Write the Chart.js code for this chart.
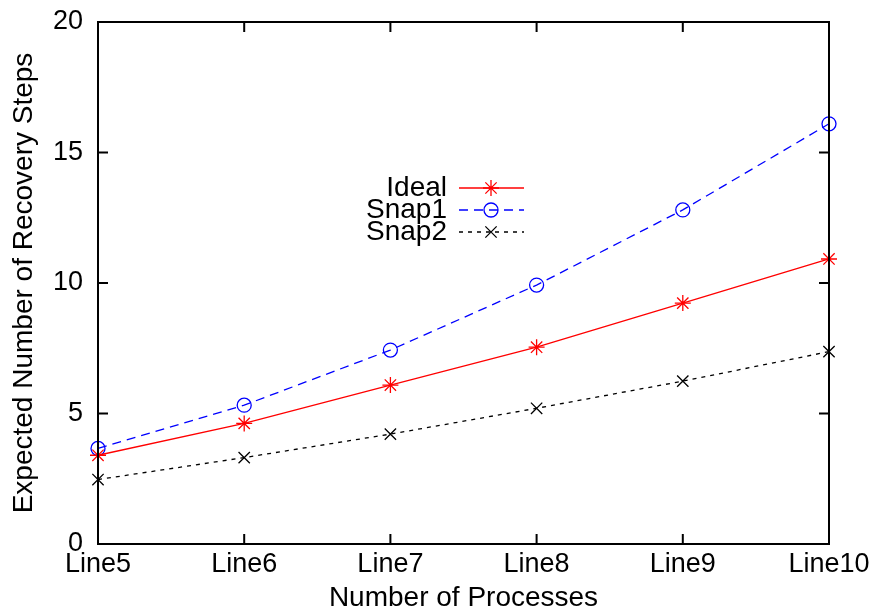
<!DOCTYPE html>
<html>
<head>
<meta charset="utf-8">
<script src="https://cdn.jsdelivr.net/npm/chart.js@4/dist/chart.umd.min.js"></script>
<style>
  html, body { margin: 0; padding: 0; background: #fff; }
  #wrap { width: 872px; height: 609px; }
</style>
</head>
<body>
<div id="wrap"><canvas id="recovery-chart" width="872" height="609"></canvas></div>
<script>
const labels = ["Line5", "Line6", "Line7", "Line8", "Line9", "Line10"];
const ideal = [3.40, 4.62, 6.09, 7.54, 9.23, 10.92];
const snap1 = [3.66, 5.32, 7.43, 9.92, 12.80, 16.10];
const snap2 = [2.47, 3.31, 4.21, 5.20, 6.24, 7.37];
const yTicks = [0, 5, 10, 15, 20];

const font = "'Liberation Sans', Arial, sans-serif";
const tickSize = 27;
const titleSize = 28;

// gnuplot-ish frame with inward ticks on all four sides
const framePlugin = {
    id: 'frame',
    afterDatasetsDraw(chart) {
        const ctx = chart.ctx;
        const a = chart.chartArea;
        const x = chart.scales.x, y = chart.scales.y;
        ctx.save();
        ctx.strokeStyle = '#000';
        ctx.lineWidth = 2;
        ctx.strokeRect(a.left, a.top, a.right - a.left, a.bottom - a.top);
        ctx.beginPath();
        const t = 10;
        labels.forEach((l, i) => {
            const px = x.getPixelForValue(i);
            ctx.moveTo(px, a.bottom); ctx.lineTo(px, a.bottom - t);
            ctx.moveTo(px, a.top); ctx.lineTo(px, a.top + t);
        });
        yTicks.forEach(v => {
            const py = y.getPixelForValue(v);
            ctx.moveTo(a.left, py); ctx.lineTo(a.left + t, py);
            ctx.moveTo(a.right, py); ctx.lineTo(a.right - t, py);
        });
        ctx.stroke();
        ctx.restore();
    }
};

// legend drawn inside the plot like gnuplot's key
const keyPlugin = {
    id: 'key',
    afterDatasetsDraw(chart) {
        const ctx = chart.ctx;
        ctx.save();
        ctx.font = titleSize + 'px ' + font;
        ctx.textAlign = 'right';
        ctx.textBaseline = 'middle';
        chart.data.datasets.forEach((ds, i) => {
            const yy = 188 + i * 22;
            ctx.fillStyle = '#000';
            ctx.fillText(ds.label, 447, yy);
            ctx.strokeStyle = ds.borderColor;
            ctx.lineWidth = ds.borderWidth;
            ctx.setLineDash(ds.borderDash || []);
            ctx.beginPath();
            ctx.moveTo(459, yy); ctx.lineTo(524, yy);
            ctx.stroke();
            ctx.setLineDash([]);
            ctx.fillStyle = 'rgba(0,0,0,0)';
            ctx.strokeStyle = ds.pointBorderColor;
            ctx.lineWidth = ds.pointBorderWidth;
            Chart.helpers.drawPoint(ctx, {
                pointStyle: ds.pointStyle, radius: ds.pointRadius, borderWidth: ds.pointBorderWidth
            }, 491, yy);
        });
        ctx.restore();
    }
};

const config = {
    type: 'line',
    data: {
        labels: labels,
        datasets: [{
            label: 'Ideal',
            data: ideal,
            borderColor: '#ff0000',
            backgroundColor: 'rgba(0,0,0,0)',
            borderWidth: 1.3,
            pointStyle: 'star',
            pointRadius: 8,
            pointBorderColor: '#ff0000',
            pointBorderWidth: 1.3
        }, {
            label: 'Snap1',
            data: snap1,
            borderColor: '#0000ff',
            backgroundColor: 'rgba(0,0,0,0)',
            borderWidth: 1.3,
            borderDash: [9, 6],
            pointStyle: 'circle',
            pointRadius: 7,
            pointBorderColor: '#0000ff',
            pointBorderWidth: 1.3
        }, {
            label: 'Snap2',
            data: snap2,
            borderColor: '#000000',
            backgroundColor: 'rgba(0,0,0,0)',
            borderWidth: 1.3,
            borderDash: [4, 5],
            pointStyle: 'crossRot',
            pointRadius: 8,
            pointBorderColor: '#000000',
            pointBorderWidth: 1.3
        }]
    },
    options: {
        responsive: false,
        animation: false,
        layout: { padding: { top: 22, right: 43, left: 0, bottom: 0 } },
        plugins: {
            legend: { display: false },
            tooltip: { enabled: false }
        },
        scales: {
            x: {
                type: 'category',
                offset: false,
                grid: { display: false, drawTicks: false },
                border: { display: false },
                ticks: { color: '#000', font: { family: font, size: tickSize }, padding: 4, maxRotation: 0, autoSkip: false },
                title: { display: true, text: 'Number of Processes', color: '#000', font: { family: font, size: titleSize, lineHeight: 1 }, padding: { top: 0, bottom: -3 } },
                afterFit(scale) {
                    scale.height = 65;
                    scale.paddingLeft = 0;
                    scale.paddingRight = 0;
                }
            },
            y: {
                min: 0,
                max: 20,
                afterBuildTicks(scale) { scale.ticks = yTicks.map(v => ({ value: v })); },
                grid: { display: false, drawTicks: false },
                border: { display: false },
                ticks: { color: '#000', font: { family: font, size: tickSize }, padding: 15 },
                title: { display: true, text: 'Expected Number of Recovery Steps', color: '#000', font: { family: font, size: titleSize, lineHeight: 1 }, padding: { top: 10, bottom: 0 } },
                afterFit(scale) {
                    scale.width = 98;
                    scale.paddingTop = 0;
                    scale.paddingBottom = 0;
                }
            }
        }
    },
    plugins: [framePlugin, keyPlugin]
};

const myChart = new Chart(document.getElementById('recovery-chart'), config);
</script>
</body>
</html>
